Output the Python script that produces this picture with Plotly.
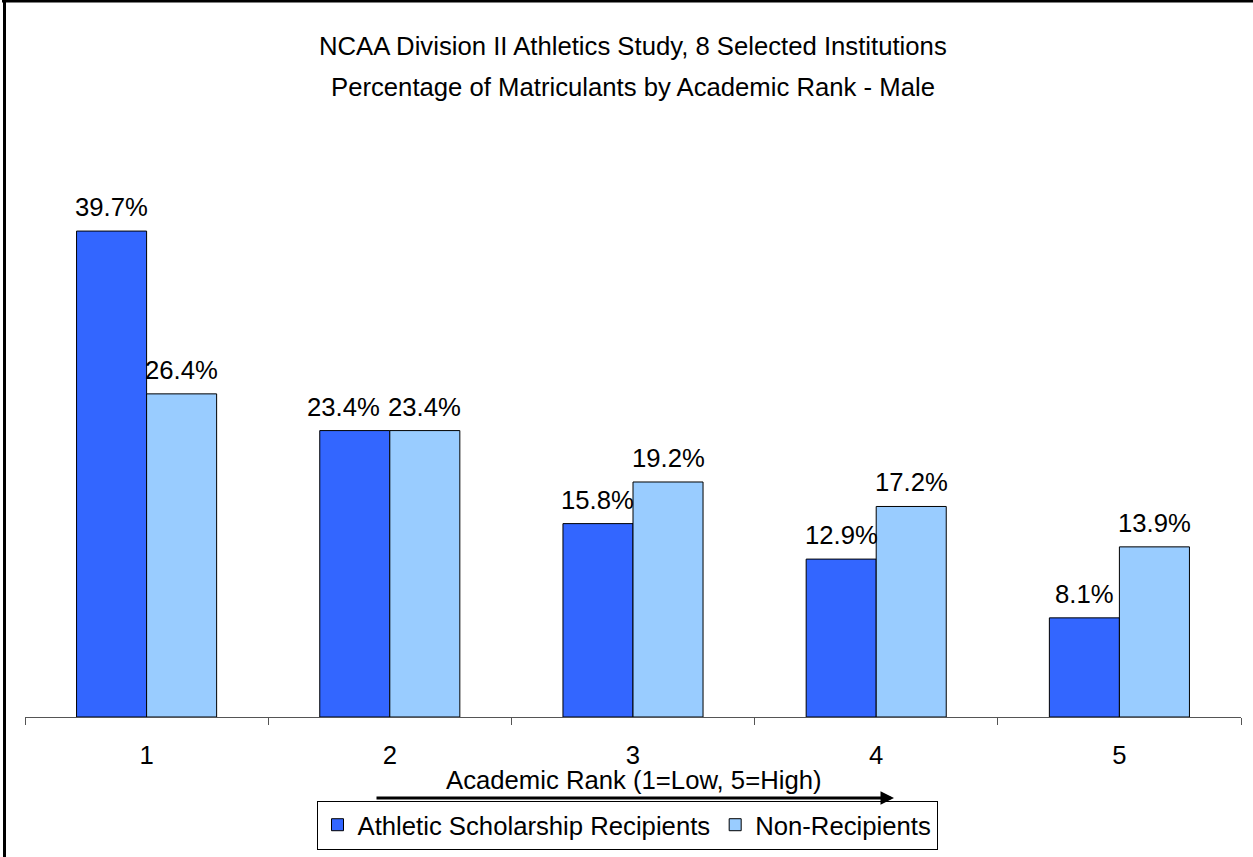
import plotly.graph_objects as go

categories = ["1", "2", "3", "4", "5"]
recipients = [39.7, 23.4, 15.8, 12.9, 8.1]
non_recipients = [26.4, 23.4, 19.2, 17.2, 13.9]
series_names = ["Athletic Scholarship Recipients", "Non-Recipients"]
title_lines = ["NCAA Division II Athletics Study, 8 Selected Institutions",
               "Percentage of Matriculants by Academic Rank - Male"]
x_title = "Academic Rank (1=Low, 5=High)"

FONT = "Liberation Sans, Arial, sans-serif"
FS = 25.7

# layout geometry (pixels)
W, H = 1253, 857
ML, MR, MT, MB = 25, 12, 150, 140
plot_w = W - ML - MR
plot_h = H - MT - MB
YMAX = plot_h / 12.24

def px_x(px):
    return (px - ML) / plot_w

def px_y(py):
    return (H - MB - py) / plot_h

fig = go.Figure()
fig.add_trace(go.Bar(x=categories, y=recipients, name=series_names[0],
                     marker=dict(color="#3366FF", line=dict(color="black", width=1))))
fig.add_trace(go.Bar(x=categories, y=non_recipients, name=series_names[1],
                     marker=dict(color="#99CCFF", line=dict(color="black", width=1))))

bargap = 0.424
half = (1 - bargap) / 4
annotations = []
for i, (a, b) in enumerate(zip(recipients, non_recipients)):
    close = abs(a - b) < 2
    for off, v, xs in ((-half, a, -11 if close else 0), (half, b, 0)):
        annotations.append(dict(x=i + off, y=v, xref="x", yref="y", text=f"{v:.1f}%",
                                showarrow=False, yanchor="bottom", yshift=8, xshift=xs,
                                font=dict(family=FONT, size=FS, color="black")))

annotations.append(dict(x=0.5, y=px_y(46), xref="paper", yref="paper", text=title_lines[0],
                        showarrow=False, yanchor="middle", xanchor="center",
                        font=dict(family=FONT, size=FS, color="black")))
annotations.append(dict(x=0.5, y=px_y(87), xref="paper", yref="paper", text=title_lines[1],
                        showarrow=False, yanchor="middle", xanchor="center",
                        font=dict(family=FONT, size=FS, color="black")))
annotations.append(dict(x=px_x(634), y=px_y(780), xref="paper", yref="paper", text=x_title,
                        showarrow=False, yanchor="middle", xanchor="center",
                        font=dict(family=FONT, size=FS, color="black")))
# arrow
annotations.append(dict(x=px_x(894), y=px_y(798), ax=-(894 - 375), ay=0,
                        xref="paper", yref="paper", axref="pixel", ayref="pixel",
                        text="", showarrow=True, arrowhead=2, arrowsize=0.9,
                        arrowwidth=3, arrowcolor="black"))

shapes = [
    dict(type="line", xref="paper", yref="paper", x0=px_x(2), x1=px_x(1253),
         y0=px_y(1), y1=px_y(1), line=dict(color="black", width=3)),
    dict(type="line", xref="paper", yref="paper", x0=px_x(4.5), x1=px_x(4.5),
         y0=px_y(0), y1=px_y(857), line=dict(color="black", width=3)),
]

fig.update_layout(
    width=W, height=H,
    margin=dict(l=ML, r=MR, t=MT, b=MB),
    paper_bgcolor="white", plot_bgcolor="white",
    barmode="group", bargap=bargap, bargroupgap=0,
    font=dict(family=FONT, size=FS, color="black"),
    showlegend=True,
    legend=dict(orientation="h", x=627 / W, xanchor="center", xref="container",
                y=1 - 825 / H, yanchor="middle", yref="container",
                bordercolor="black", borderwidth=1, bgcolor="white",
                font=dict(family=FONT, size=FS, color="black"),
                itemwidth=30, tracegroupgap=0),
    annotations=annotations,
    shapes=shapes,
    xaxis=dict(type="category", showline=True, linecolor="#555", linewidth=1,
               ticks="outside", tickson="boundaries", ticklen=7, tickcolor="#555",
               showgrid=False, zeroline=False, ticklabelstandoff=15,
               tickfont=dict(family=FONT, size=FS, color="black")),
    yaxis=dict(range=[0, YMAX], visible=False, showgrid=False, zeroline=False),
)

fig.write_html("out.html", config={"displayModeBar": False},
               post_script="document.body.style.margin='0';document.body.style.overflow='hidden';")
